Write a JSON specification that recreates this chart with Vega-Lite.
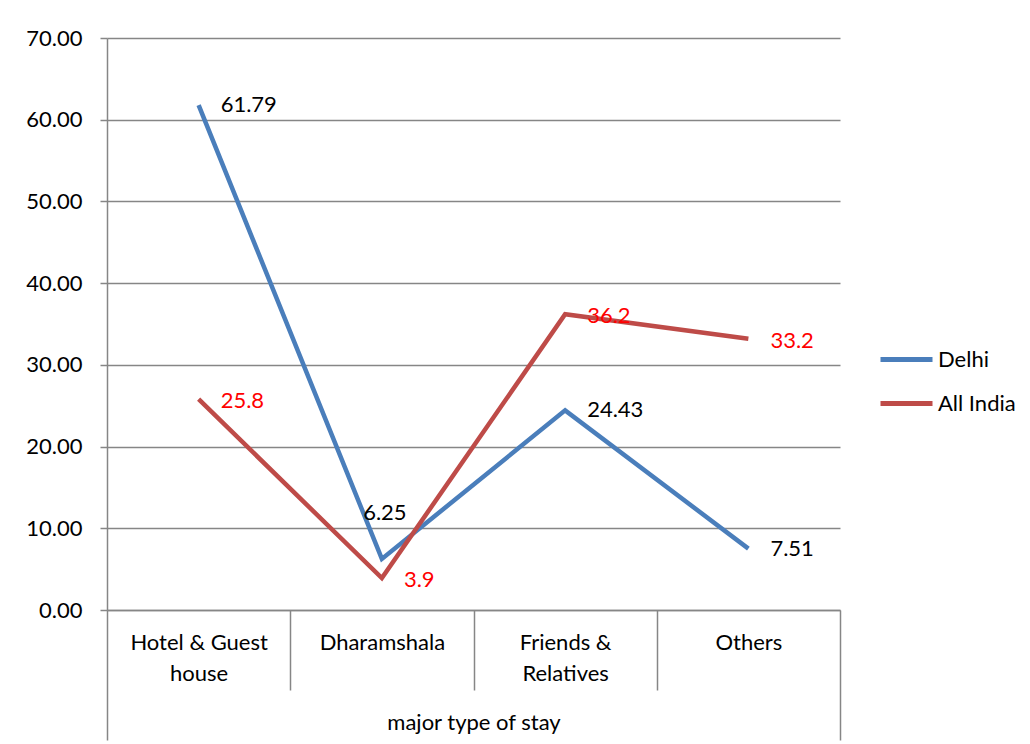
{
  "$schema": "https://vega.github.io/schema/vega-lite/v6.json",
  "width": 733,
  "height": 572,
  "autosize": {"type": "none"},
  "padding": {"left": 107, "top": 38, "right": 190, "bottom": 134},
  "background": "white",
  "config": {
    "font": "Lato",
    "view": {"stroke": null},
    "axis": {"labelFont": "Lato", "titleFont": "Lato"}
  },
  "data": {
    "values": [
      {"stay": "Hotel & Guest house", "series": "Delhi", "pct": 61.79},
      {"stay": "Dharamshala", "series": "Delhi", "pct": 6.25},
      {"stay": "Friends & Relatives", "series": "Delhi", "pct": 24.43},
      {"stay": "Others", "series": "Delhi", "pct": 7.51},
      {"stay": "Hotel & Guest house", "series": "All India", "pct": 25.8},
      {"stay": "Dharamshala", "series": "All India", "pct": 3.9},
      {"stay": "Friends & Relatives", "series": "All India", "pct": 36.2},
      {"stay": "Others", "series": "All India", "pct": 33.2}
    ]
  },
  "encoding": {
    "x": {
      "field": "stay",
      "type": "nominal",
      "sort": ["Hotel & Guest house", "Dharamshala", "Friends & Relatives", "Others"],
      "scale": {"type": "band", "paddingInner": 0, "paddingOuter": 0},
      "axis": {
        "title": "major type of stay",
        "titleFontSize": 22,
        "titleFontWeight": "normal",
        "titleColor": "black",
        "titleBaseline": "middle",
        "titleY": 112,
        "domainColor": "#868686",
        "domainWidth": 1.5,
        "tickBand": "extent",
        "tickColor": "#868686",
        "tickWidth": 1.5,
        "tickSize": {"condition": {"test": "datum.index < 0 || datum.value == 'Others'", "value": 130}, "value": 80},
        "labelAngle": 0,
        "labelFontSize": 22,
        "labelColor": "black",
        "labelPadding": {"condition": {"test": "datum.value == 'Others'", "value": -108}, "value": -58},
        "labelBaseline": "top",
        "labelLineHeight": 31,
        "labelExpr": "datum.value == 'Hotel & Guest house' ? ['Hotel & Guest', 'house'] : datum.value == 'Friends & Relatives' ? ['Friends &', 'Relatives'] : datum.value",
        "grid": false
      }
    },
    "y": {
      "field": "pct",
      "type": "quantitative",
      "scale": {"domain": [0, 70], "nice": false},
      "axis": {
        "title": null,
        "values": [0, 10, 20, 30, 40, 50, 60, 70],
        "format": ".2f",
        "labelFontSize": 22,
        "labelColor": "black",
        "labelPadding": 18,
        "tickSize": 7,
        "tickColor": "#868686",
        "tickWidth": 1.5,
        "domainColor": "#868686",
        "domainWidth": 1.5,
        "gridColor": "#868686",
        "gridWidth": 1.5
      }
    }
  },
  "layer": [
    {
      "mark": {"type": "line", "strokeWidth": 4.5},
      "encoding": {
        "color": {
          "field": "series",
          "type": "nominal",
          "sort": ["Delhi", "All India"],
          "scale": {"domain": ["Delhi", "All India"], "range": ["#4A7EBB", "#BE4B48"]},
          "legend": {
            "title": null,
            "orient": "none",
            "legendX": 771,
            "legendY": 293,
            "padding": 0,
            "symbolType": "stroke",
            "symbolSize": 2704,
            "symbolStrokeWidth": 5,
            "labelOffset": 3,
            "labelFontSize": 22,
            "labelColor": "black",
            "rowPadding": 4
          }
        }
      }
    },
    {
      "transform": [{"filter": "datum.series == 'Delhi' && datum.stay != 'Dharamshala'"}],
      "mark": {"type": "text", "align": "left", "baseline": "middle", "dx": 22, "fontSize": 22, "color": "black"},
      "encoding": {"text": {"field": "pct", "type": "quantitative"}}
    },
    {
      "transform": [{"filter": "datum.series == 'Delhi' && datum.stay == 'Dharamshala'"}],
      "mark": {"type": "text", "align": "center", "baseline": "middle", "dx": 3, "dy": -46, "fontSize": 22, "color": "black"},
      "encoding": {"text": {"field": "pct", "type": "quantitative"}}
    },
    {
      "transform": [{"filter": "datum.series == 'All India'"}],
      "mark": {"type": "text", "align": "left", "baseline": "middle", "dx": 22, "dy": 2, "fontSize": 22, "color": "#FF0000"},
      "encoding": {"text": {"field": "pct", "type": "quantitative"}}
    }
  ]
}
